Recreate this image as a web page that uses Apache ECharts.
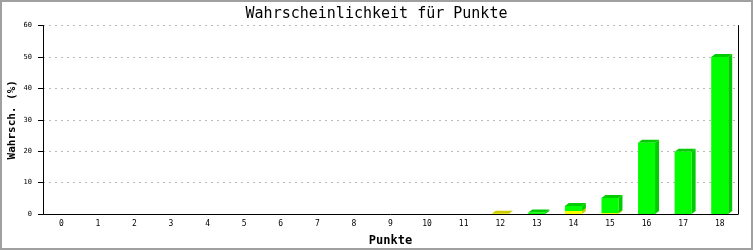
<!DOCTYPE html>
<html><head><meta charset="utf-8">
<script src="https://cdn.jsdelivr.net/npm/echarts@6/dist/echarts.min.js"></script>
<style>
html,body{margin:0;padding:0;background:#fff;}
#wrap{position:relative;width:753px;height:250px;}
#chart{position:absolute;left:0;top:0;width:753px;height:250px;}
#frame{position:absolute;left:0;top:0;width:753px;height:250px;box-sizing:border-box;border:2px solid #a0a0a0;pointer-events:none;}
</style></head>
<body><div id="wrap"><div id="chart"></div><div id="frame"></div></div>
<script>
const categories = ['0','1','2','3','4','5','6','7','8','9','10','11','12','13','14','15','16','17','18'];
const yellowValues = [0,0,0,0,0,0,0,0,0,0,0,0,0.1,0,0.95,0.3,0,0,0];
const greenValues  = [0,0,0,0,0,0,0,0,0,0,0,0,0,0.5,1.6,4.8,22.7,19.8,50];
const yTicks = [0,10,20,30,40,50,60];

const MONO = '"DejaVu Sans Mono", "Liberation Mono", monospace';

function stackData(vals, bases){
  return vals.map((v,i)=>[i, bases ? bases[i] : 0, (bases ? bases[i] : 0) + v, v]);
}
const yellowData = stackData(yellowValues, null);
const greenData = stackData(greenValues, yellowValues);

function make3D(front, dark){
  return function(params, api){
    const v = api.value(3);
    if (!(v > 0)) return null;
    const i = api.value(0);
    const pb = api.coord([i, api.value(1)]);
    const pt = api.coord([i, api.value(2)]);
    const w = api.size([1,0])[0] * 0.465;
    const x0 = pb[0] - w/2, x1 = pb[0] + w/2;
    const yb = pb[1], yt = pt[1];
    const dx = 4, dy = 3;
    return {type:'group', children:[
      {type:'polygon', shape:{points:[[x1,yt],[x1+dx,yt-dy],[x1+dx,yb-dy],[x1,yb]]}, style:{fill:dark}},
      {type:'polygon', shape:{points:[[x0,yt],[x0+dx,yt-dy],[x1+dx,yt-dy],[x1,yt]]}, style:{fill:dark}},
      {type:'rect', shape:{x:x0, y:yt, width:w, height:Math.max(yb-yt,0)}, style:{fill:front}}
    ]};
  };
}

const chart = echarts.init(document.getElementById('chart'), null, {renderer:'canvas'});
chart.setOption({
  animation:false,
  backgroundColor:'#fff',
  title:{text:'Wahrscheinlichkeit für Punkte', left:'center', top:2,
    textStyle:{fontFamily:MONO, fontSize:15, fontWeight:'normal', color:'#000'}},
  grid:{left:43, right:15, top:25.5, bottom:36, containLabel:false, outerBoundsMode:'none'},
  xAxis:{type:'category', data:categories, boundaryGap:true,
    name:'Punkte', nameLocation:'middle', nameGap:21, nameMoveOverlap:false,
    nameTextStyle:{fontFamily:MONO, fontSize:12, fontWeight:'bold', color:'#000'},
    axisLine:{show:true, lineStyle:{color:'#000', width:1}},
    axisTick:{show:false},
    axisLabel:{fontFamily:MONO, fontSize:8, color:'#000', margin:6, interval:0}},
  yAxis:[{type:'value', min:0, max:60, interval:10,
    name:'Wahrsch. (%)', nameLocation:'middle', nameGap:25, nameRotate:90, nameMoveOverlap:false,
    nameTextStyle:{fontFamily:MONO, fontSize:11, fontWeight:'bold', color:'#000'},
    axisLine:{show:true, lineStyle:{color:'#000', width:1}},
    axisTick:{show:true, length:5, lineStyle:{color:'#000'}},
    axisLabel:{fontFamily:MONO, fontSize:7, color:'#000', margin:11,
      customValues: yTicks},
    splitLine:{show:true, lineStyle:{color:'#bbbbbb', type:[2,4], width:1}}},
   {type:'value', min:0, max:60, interval:10, position:'right',
    axisLine:{show:true, lineStyle:{color:'#000', width:1}},
    axisTick:{show:false}, axisLabel:{show:false}, splitLine:{show:false}}],
  series:[
    {type:'custom', name:'gelb', renderItem:make3D('#ffff00','#cccc00'), data:yellowData,
      encode:{x:0, y:[1,2]}, z:2},
    {type:'custom', name:'grün', renderItem:make3D('#00ff00','#00cc00'), data:greenData,
      encode:{x:0, y:[1,2]}, z:3}
  ]
});
</script></body></html>
